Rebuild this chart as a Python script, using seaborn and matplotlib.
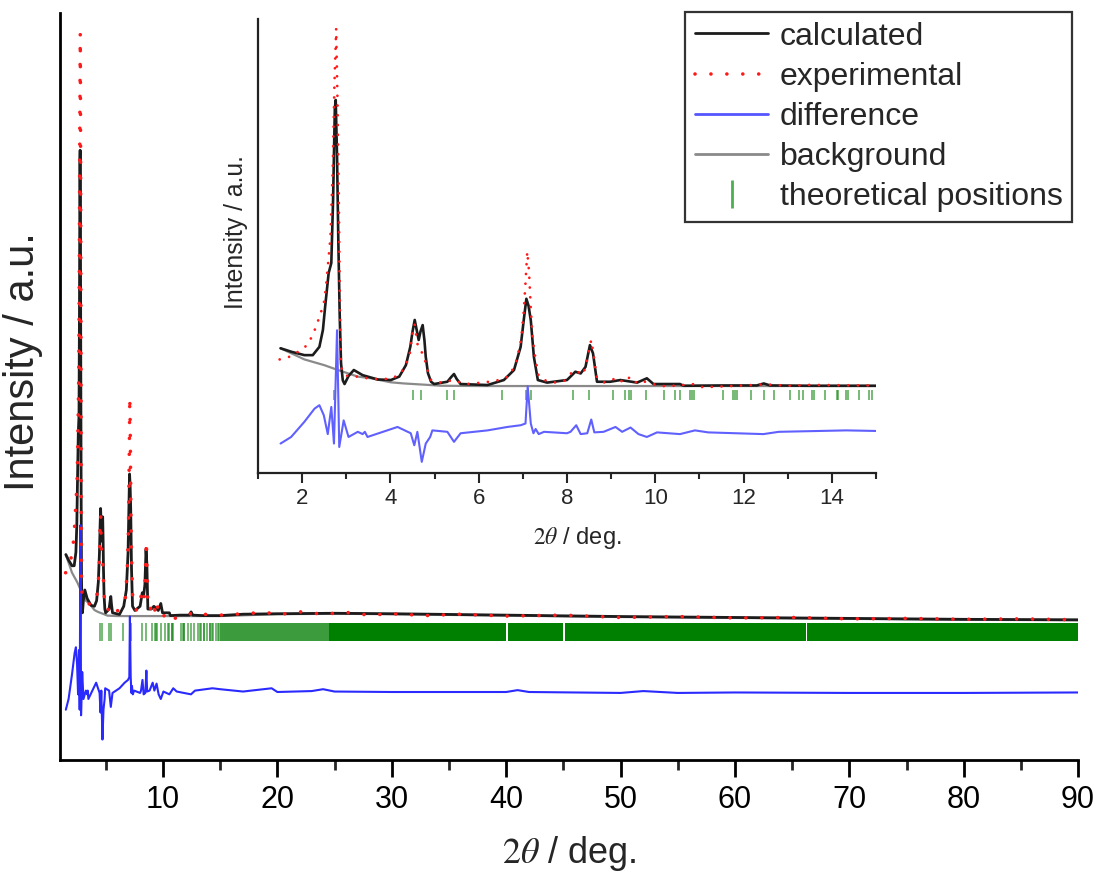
import matplotlib
matplotlib.use("Agg")
import matplotlib.pyplot as plt
from matplotlib.lines import Line2D
from matplotlib.ticker import MultipleLocator
import numpy as np
import seaborn as sns

# ---------------- data (2theta in deg, intensity in a.u.) ----------------
calc_x = [1.51, 1.75, 2.05, 2.24, 2.39, 2.47, 2.52, 2.60, 2.66, 2.70, 2.74, 2.76, 2.79, 2.82,
          2.85, 2.88, 2.92, 2.96, 3.05, 3.17, 3.37, 3.71, 4.01, 4.20, 4.35, 4.45, 4.50, 4.55,
          4.61, 4.64, 4.68, 4.73, 4.77, 4.80, 4.85, 4.92, 4.99, 5.29, 5.38, 5.44, 5.50, 5.59,
          6.20, 6.57, 6.80, 6.95, 7.02, 7.08, 7.13, 7.18, 7.25, 7.34, 7.55, 8.00, 8.08, 8.19,
          8.31, 8.42, 8.52, 8.59, 8.68, 8.98, 9.21, 9.59, 9.81, 9.96, 10.56, 10.64, 11.5,
          12.3, 12.46, 12.6, 13.5, 15.0, 17.0, 20.0, 25.0, 30.0, 40.0, 50.0, 60.0, 70.0,
          80.0, 90.0]
calc_y = [13.2, 12.0, 10.8, 10.8, 13.7, 19.6, 27.7, 39.5, 43.0, 65.0, 97.0, 100.0, 80.0, 50.0,
          25.0, 8.0, 2.0, 0.7, 3.5, 5.6, 3.8, 2.3, 2.1, 3.3, 7.3, 13.7, 19.0, 23.1,
          18.4, 16.1, 19.0, 21.3, 16.0, 10.2, 4.5, 1.5, 0.7, 1.5, 3.2, 4.2, 2.5, 0.7,
          0.35, 2.1, 5.6, 13.7, 23.0, 30.5, 28.0, 23.0, 10.2, 2.1, 1.2, 2.1, 3.3, 5.0,
          4.4, 6.7, 14.3, 11.4, 1.5, 1.5, 2.1, 1.2, 2.7, 0.7, 0.7, 0.1, 0.2,
          0.2, 0.9, 0.2, 0.1, 0.1, 0.4, 0.5, 0.6, 0.5, 0.2, -0.1, -0.3, -0.5,
          -0.7, -0.8]

exp_x = [1.49, 1.68, 1.98, 2.11, 2.24, 2.34, 2.43, 2.49, 2.54, 2.64, 2.69, 2.73, 2.77, 2.80,
         2.83, 2.86, 2.88, 2.95, 3.07, 3.30, 3.48, 3.79, 4.01, 4.20, 4.35, 4.45, 4.50, 4.55,
         4.61, 4.65, 4.73, 4.77, 4.80, 4.88, 4.92, 5.14, 5.44, 5.67, 5.89, 6.23, 6.54, 6.71,
         6.86, 6.96, 7.02, 7.06, 7.10, 7.14, 7.18, 7.22, 7.29, 7.36, 7.48, 7.70, 7.93, 8.15,
         8.22, 8.34, 8.42, 8.50, 8.55, 8.61, 8.67, 8.83, 9.02, 9.13, 9.28, 9.44, 9.59, 9.77,
         10.11, 10.34, 10.90, 11.09, 11.26, 12.0, 12.5, 13.0, 13.5, 14.2, 15.0, 17.0, 19.0,
         20.0, 22.0, 24.0, 26.0, 28.0, 30.0, 33.0, 36.0, 40.0, 45.0, 50.0, 55.0, 60.0, 65.0,
         70.0, 75.0, 80.0, 85.0, 90.0]
exp_y = [9.3, 10.0, 12.6, 14.3, 17.8, 21.9, 26.0, 28.9, 34.7, 52.0, 74.5, 105.0, 125.0, 100.0,
         65.0, 20.0, 6.7, 4.0, 3.3, 3.3, 2.7, 2.3, 2.7, 3.8, 7.3, 12.0, 19.6, 21.5,
         14.9, 12.6, 11.5, 10.5, 7.5, 3.8, 2.1, 1.2, 2.1, 0.7, 0.9, 1.5, 2.3, 3.8,
         9.1, 16.1, 26.0, 36.0, 47.0, 40.0, 27.0, 17.0, 9.0, 3.3, 2.1, 1.2, 1.7, 5.4,
         5.4, 3.8, 6.3, 12.6, 16.1, 10.2, 3.3, 1.2, 2.1, 3.0, 1.2, 3.3, 0.9, 1.5,
         0.0, 0.0, 0.7, -0.5, -0.3, 0.2, 0.6, 0.1, 0.4, 0.3, 0.2, 0.5, 0.8,
         0.3, 0.9, 0.4, 0.8, 0.2, 0.5, 0.1, 0.4, 0.0, 0.2, -0.3, -0.1, -0.4, -0.3,
         -0.6, -0.5, -0.7, -0.6, -0.8]

bg_x = [1.51, 2.05, 2.50, 2.81, 3.26, 3.56, 4.01, 4.31, 4.90, 5.14, 6.0, 15.0, 20.0, 25.0,
        30.0, 40.0, 50.0, 60.0, 70.0, 80.0, 90.0]
bg_y = [13.2, 9.3, 7.3, 5.6, 3.3, 2.7, 1.3, 0.9, 0.35, 0.1, 0.0, 0.0, 0.4, 0.5,
        0.4, 0.1, -0.2, -0.4, -0.6, -0.8, -0.9]

diff_x = [1.51, 1.75, 2.05, 2.28, 2.39, 2.49, 2.58, 2.66, 2.72, 2.79, 2.84, 2.94, 3.05, 3.26,
          3.37, 3.42, 3.48, 4.16, 4.46, 4.54, 4.61, 4.71, 4.80, 4.90, 4.95, 5.29, 5.44, 5.59,
          6.20, 6.65, 6.95, 7.06, 7.11, 7.18, 7.24, 7.29, 7.36, 7.48, 8.00, 8.08, 8.21, 8.31,
          8.46, 8.55, 8.62, 8.83, 9.10, 9.25, 9.44, 9.62, 9.81, 10.04, 10.56, 10.90, 11.20,
          12.45, 12.80, 14.33, 15.0, 17.0, 19.5, 20.0, 23.0, 24.0, 25.0, 30.0, 40.0, 41.0,
          42.0, 50.0, 52.0, 55.0, 60.0, 70.0, 80.0, 90.0]
diff_y = [-3.6, -1.3, 4.0, 8.6, 9.8, 6.3, -0.3, 9.2, -3.6, 36.0, -4.8, 4.5, -1.3, 0.5,
          -0.3, 0.5, -1.3, 2.2, 0.0, -4.2, 0.5, -10.0, -3.6, -1.3, 1.0, 0.5, -3.0, 0.0,
          1.0, 2.2, 2.8, 3.4, 16.4, 3.4, 0.0, 1.5, -0.3, 0.5, 0.0, 0.5, 2.8, -0.3,
          0.0, 4.8, 0.3, 0.5, 2.2, 0.5, 2.0, -0.3, -1.3, 0.3, -0.3, 1.0, 0.3,
          -0.3, 0.5, 1.0, 0.8, 0.3, 1.0, 0.2, 0.4, 0.8, 0.3, 0.2, 0.2, 0.6,
          0.2, 0.0, 0.4, 0.0, 0.1, 0.0, 0.0, 0.1]

reflections = [2.73, 4.52, 4.70, 5.28, 5.43, 6.52, 7.08, 7.18, 8.14, 8.49, 9.04, 9.32, 9.40,
               9.44, 9.80, 10.19, 10.44, 10.55, 10.78, 10.83, 10.88, 11.54, 11.76, 11.81,
               11.86, 12.18, 12.46, 12.69, 13.05, 13.26, 13.34, 13.56, 13.60, 13.84, 14.11,
               14.15, 14.33, 14.37, 14.62, 14.84, 14.92]
# beyond 15 deg the reflections merge into a continuous band
reflection_band_partial = [(15.0, 24.5)]
reflection_band_solid = [(24.5, 40.0), (40.12, 45.0), (45.15, 66.2), (66.32, 90.0)]

labels = ["calculated", "experimental", "difference", "background", "theoretical positions"]

# ---------------- style ----------------
sns.set_theme(style="ticks")
plt.rcParams["font.family"] = ["Liberation Sans", "DejaVu Sans"]
plt.rcParams["mathtext.fontset"] = "stix"

fig = plt.figure(figsize=(10.99, 8.82), dpi=100)
ax = fig.add_axes([0.0546, 0.1383, 0.9264, 0.8467])
ins = fig.add_axes([0.2348, 0.4637, 0.5622, 0.5148])

DIFF_OFFSET = -16.5


def draw(a, lw_calc, lw_dot, dot_gap, diff_color, tick_lo, tick_hi, band=False):
    sns.lineplot(x=bg_x, y=bg_y, ax=a, color="#8a8a8a", linewidth=1.6, sort=False,
                 estimator=None, zorder=2)
    sns.lineplot(x=calc_x, y=calc_y, ax=a, color="#1c1c1c", linewidth=lw_calc, sort=False,
                 estimator=None, zorder=3)
    a.vlines(reflections, tick_lo, tick_hi, color="#1e8c1e", alpha=0.65, linewidth=1.3,
             zorder=2)
    if band:
        for lo, hi in reflection_band_partial:
            a.fill_between([lo, hi], tick_lo, tick_hi, color="#1a8a1a", alpha=0.85,
                           linewidth=0, zorder=2)
        for lo, hi in reflection_band_solid:
            a.fill_between([lo, hi], tick_lo, tick_hi, color="#008000", linewidth=0,
                           zorder=2)
    diff_shift = [v + DIFF_OFFSET for v in diff_y]
    sns.lineplot(x=diff_x, y=diff_shift, ax=a, color=diff_color, linewidth=1.5, sort=False,
                 estimator=None, zorder=4)
    sns.lineplot(x=exp_x, y=exp_y, ax=a, color="#ff1a1a", linewidth=lw_dot, sort=False,
                 estimator=None, zorder=5, linestyle=(0, (0.01, dot_gap)),
                 dash_capstyle="round")


draw(ax, 2.0, 2.6, 4.4, "#2a2aff", -5.4, -1.5, band=True)
draw(ins, 1.9, 2.0, 3.5, "#6060ff", -4.9, -1.4, band=False)

# main axes
ax.set_xlim(1, 90)
ax.set_ylim(-30.9, 129.4)
ax.set_xticks(range(10, 91, 10))
ax.xaxis.set_minor_locator(MultipleLocator(5))
ax.set_yticks([])
ax.tick_params(axis="x", which="major", direction="out", length=12, width=2,
               labelsize=22, pad=6, bottom=True, colors="black")
ax.tick_params(axis="x", which="minor", direction="out", length=7, width=2, bottom=True)
for s in ["top", "right"]:
    ax.spines[s].set_visible(False)
for s in ["left", "bottom"]:
    ax.spines[s].set_linewidth(2)
    ax.spines[s].set_color("black")
ax.set_xlabel(r"$\mathit{2}\theta$ / deg.", fontsize=26, labelpad=14)
ax.set_ylabel("Intensity / a.u.", fontsize=30)
ax.yaxis.set_label_coords(-0.017, 0.533)

# inset axes
ins.set_facecolor("none")
ins.set_xlim(1, 15)
ins.set_ylim(-30.4, 128.3)
ins.set_xticks(range(2, 15, 2))
ins.xaxis.set_minor_locator(MultipleLocator(1))
ins.set_yticks([])
ins.tick_params(axis="x", which="major", direction="out", length=7, width=1.5,
                labelsize=16, pad=4, bottom=True)
ins.tick_params(axis="x", which="minor", direction="out", length=4, width=1.5, bottom=True)
for s in ["top", "right"]:
    ins.spines[s].set_visible(False)
for s in ["left", "bottom"]:
    ins.spines[s].set_linewidth(1.6)
    ins.spines[s].set_color("#222222")
ins.set_xlabel(r"$\mathit{2}\theta$ / deg.", fontsize=17, labelpad=10)
ins.xaxis.set_label_coords(0.516, -0.115)
ins.set_ylabel("Intensity / a.u.", fontsize=17.8)
ins.yaxis.set_label_coords(-0.016, 0.531)

# legend
handles = [
    Line2D([], [], color="#1c1c1c", linewidth=2.0),
    Line2D([], [], color="#ff1a1a", linewidth=2.6, linestyle=(0, (0.01, 4.4)),
           dash_capstyle="round"),
    Line2D([], [], color="#5555ff", linewidth=2.0),
    Line2D([], [], color="#8a8a8a", linewidth=2.0),
    Line2D([], [], color="#4caf50", marker="|", linestyle="None", markersize=20,
           markeredgewidth=2),
]
leg = fig.legend(handles, labels, loc="upper right",
                 bbox_to_anchor=(1072 / 1099, 1 - 12 / 882), bbox_transform=fig.transFigure,
                 fontsize=23, frameon=True, fancybox=False, framealpha=1,
                 edgecolor="#333333", handlelength=2.3, handletextpad=0.35,
                 labelspacing=0.32, borderpad=0.3, borderaxespad=0)
leg.get_frame().set_linewidth(1.6)

fig.savefig("out.png", dpi=100)
